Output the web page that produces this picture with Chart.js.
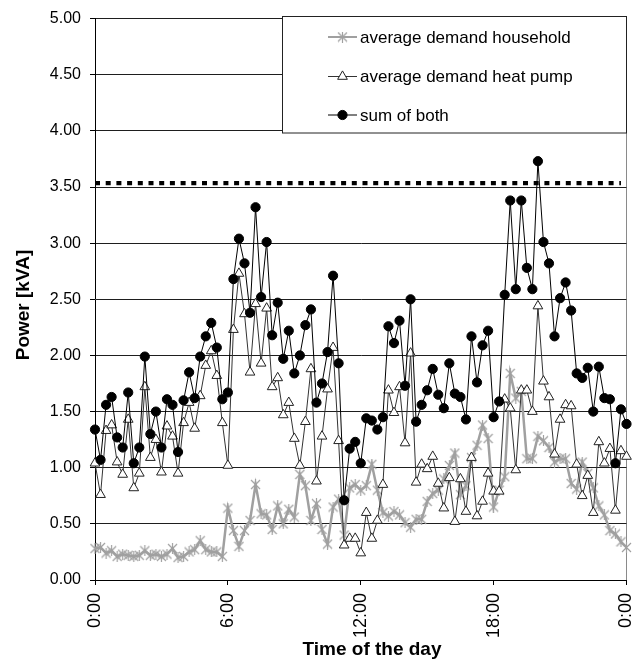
<!DOCTYPE html>
<html><head><meta charset="utf-8">
<script src="https://cdn.jsdelivr.net/npm/chart.js@4.4.0/dist/chart.umd.min.js"></script>
<style>html,body{margin:0;padding:0;background:#fff;}canvas{display:block;}</style>
</head><body>
<canvas id="c" width="634" height="661" style="width:634px;height:661px"></canvas>
<script>
// ---- DATA ----
const timeLabels = [
"0:00","0:15","0:30","0:45","1:00","1:15","1:30","1:45","2:00","2:15","2:30","2:45",
"3:00","3:15","3:30","3:45","4:00","4:15","4:30","4:45","5:00","5:15","5:30","5:45",
"6:00","6:15","6:30","6:45","7:00","7:15","7:30","7:45","8:00","8:15","8:30","8:45",
"9:00","9:15","9:30","9:45","10:00","10:15","10:30","10:45","11:00","11:15","11:30","11:45",
"12:00","12:15","12:30","12:45","13:00","13:15","13:30","13:45","14:00","14:15","14:30","14:45",
"15:00","15:15","15:30","15:45","16:00","16:15","16:30","16:45","17:00","17:15","17:30","17:45",
"18:00","18:15","18:30","18:45","19:00","19:15","19:30","19:45","20:00","20:15","20:30","20:45",
"21:00","21:15","21:30","21:45","22:00","22:15","22:30","22:45","23:00","23:15","23:30","23:45",
"0:00 "];
const tickLabelsShown = ["0:00","6:00","12:00","18:00","0:00 "];

const household = [
0.28,0.29,0.24,0.26,0.21,0.23,0.22,0.21,0.22,0.26,0.22,0.23,
0.21,0.23,0.28,0.20,0.21,0.25,0.27,0.35,0.27,0.25,0.25,0.21,
0.64,0.44,0.30,0.44,0.53,0.85,0.59,0.58,0.45,0.66,0.50,0.63,
0.56,0.94,0.84,0.53,0.68,0.45,0.32,0.65,0.72,0.40,0.82,0.85,
0.80,0.84,1.03,0.80,0.60,0.57,0.61,0.58,0.51,0.47,0.54,0.54,
0.70,0.77,0.80,0.90,1.02,1.13,0.76,0.84,1.09,1.20,1.38,1.26,
0.65,0.80,0.92,1.84,1.62,1.68,1.08,1.08,1.28,1.24,1.18,1.05,
1.08,1.08,0.86,0.81,1.05,0.95,0.82,0.66,0.58,0.44,0.41,0.34,
0.29];
const heatPump = [
1.04,0.76,1.33,1.38,1.05,0.94,1.43,0.82,0.95,1.72,1.09,1.25,
0.96,1.37,1.28,0.95,1.40,1.58,1.35,1.64,1.91,2.04,1.82,1.40,
1.02,2.23,2.73,2.37,1.85,2.46,1.93,2.42,1.72,1.80,1.47,1.58,
1.26,1.02,1.41,1.88,0.88,1.28,1.70,2.07,1.24,0.31,0.37,0.37,
0.24,0.60,0.37,0.53,0.85,1.69,1.49,1.72,1.22,2.02,0.87,1.03,
0.99,1.10,0.86,0.64,0.91,0.52,0.90,0.61,1.09,0.57,0.70,0.95,
0.79,0.79,1.61,1.53,0.98,1.69,1.69,1.50,2.44,1.77,1.63,1.12,
1.43,1.56,1.55,1.03,0.75,0.93,0.60,1.23,1.04,1.17,0.62,1.15,
1.10];
const sumBoth = [
1.34,1.07,1.56,1.63,1.27,1.18,1.67,1.04,1.18,1.99,1.30,1.50,
1.18,1.61,1.56,1.14,1.60,1.85,1.62,1.99,2.17,2.29,2.07,1.61,
1.67,2.68,3.04,2.82,2.38,3.32,2.52,3.01,2.18,2.47,1.97,2.22,
1.84,2.00,2.27,2.41,1.58,1.75,2.03,2.71,1.93,0.71,1.17,1.23,
1.04,1.44,1.42,1.34,1.45,2.26,2.11,2.31,1.73,2.50,1.41,1.56,
1.69,1.88,1.65,1.53,1.93,1.66,1.63,1.43,2.17,1.76,2.09,2.22,
1.45,1.59,2.54,3.38,2.59,3.38,2.78,2.59,3.73,3.01,2.82,2.17,
2.51,2.65,2.40,1.84,1.80,1.89,1.50,1.90,1.62,1.61,1.04,1.52,
1.39];
const limitValue = 3.535;
const limitSpan = ["0:00","23:45"];
const seriesNames = ["average demand household","average demand heat pump","sum of both"];
const yTicks = [0,0.5,1,1.5,2,2.5,3,3.5,4,4.5,5];
const xTitle = "Time of the day";
const yTitle = "Power [kVA]";

// ---- STYLE ----
const FONT = '"Liberation Sans", Arial, sans-serif';
const GRAY = '#a0a0a0';

function makeAsterisk(color){
  const s = 11, c = document.createElement('canvas');
  c.width = s; c.height = s;
  const g = c.getContext('2d');
  g.strokeStyle = color; g.lineWidth = 1.2; g.lineCap = 'butt';
  g.beginPath();
  g.moveTo(1,1); g.lineTo(s-1,s-1);
  g.moveTo(s-1,1); g.lineTo(1,s-1);
  g.moveTo(s/2,0); g.lineTo(s/2,s);
  g.stroke();
  return c;
}
const asterisk = makeAsterisk(GRAY);

const dsStyles = [
  {borderColor:GRAY, borderWidth:2.5, pointStyle:asterisk, pointRadius:5, order:3},
  {borderColor:'#333', borderWidth:1, pointStyle:'triangle', pointRadius:5.6,
   pointBackgroundColor:'#fff', pointBorderColor:'#222', pointBorderWidth:1, order:2},
  {borderColor:'#000', borderWidth:1, pointStyle:'circle', pointRadius:4.6,
   pointBackgroundColor:'#000', pointBorderColor:'#000', pointBorderWidth:1, order:1}
];

const overlayPlugin = {
  id:'overlay',
  afterDraw(chart){
    const ctx = chart.ctx;
    const ca = chart.chartArea;
    ctx.save();
    // legend box
    const bx = 282, by = 17, bw = 345, bh = 116;
    ctx.fillStyle = '#fff';
    ctx.fillRect(bx, by, bw, bh);
    ctx.strokeStyle = '#222'; ctx.lineWidth = 1;
    ctx.strokeRect(bx + 0.5, by - 0.5, bw - 1, bh + 0.5);
    const rows = [37, 76.5, 115];
    ctx.font = '17px ' + FONT;
    ctx.textBaseline = 'middle';
    ctx.textAlign = 'left';
    rows.forEach((ry, i) => {
      const st = dsStyles[i];
      ctx.strokeStyle = st.borderColor;
      ctx.lineWidth = i === 0 ? 2 : 1;
      ctx.beginPath(); ctx.moveTo(328, ry); ctx.lineTo(357, ry); ctx.stroke();
      ctx.fillStyle = st.pointBackgroundColor || GRAY;
      ctx.strokeStyle = st.pointBorderColor || GRAY;
      ctx.lineWidth = 1;
      Chart.helpers.drawPoint(ctx, {pointStyle: st.pointStyle, radius: st.pointRadius, rotation: 0, borderWidth: 1}, 342.5, ry);
      ctx.fillStyle = '#000';
      ctx.fillText(seriesNames[i], 360, ry + 1);
    });
    // axis titles
    ctx.fillStyle = '#000';
    ctx.font = 'bold 19px ' + FONT;
    ctx.textAlign = 'center';
    ctx.textBaseline = 'alphabetic';
    ctx.fillText(xTitle, 372, 655);
    ctx.save();
    ctx.translate(29, 305);
    ctx.rotate(-Math.PI/2);
    ctx.fillText(yTitle, 0, 0);
    ctx.restore();
    ctx.restore();
  }
};

const chart = new Chart(document.getElementById('c'), {
  type: 'line',
  data: {
    labels: timeLabels,
    datasets: [
      Object.assign({label: seriesNames[0], data: household, tension: 0, clip: false}, dsStyles[0]),
      Object.assign({label: seriesNames[1], data: heatPump, tension: 0, clip: false}, dsStyles[1]),
      Object.assign({label: seriesNames[2], data: sumBoth, tension: 0, clip: false}, dsStyles[2]),
      {label: 'limit', data: limitSpan.map(x => ({x: x, y: limitValue})), borderColor: '#000',
       borderWidth: 4.2, borderDash: [5, 5.7], borderCapStyle: 'butt', pointRadius: 0, order: 4, clip: false}
    ]
  },
  options: {
    responsive: false,
    devicePixelRatio: 1,
    animation: false,
    events: [],
    layout: {padding: {top: 17, right: 7, left: 0, bottom: 0}},
    plugins: {legend: {display: false}, tooltip: {enabled: false}, title: {display: false}},
    scales: {
      x: {
        type: 'category',
        offset: false,
        border: {display: true, color: '#000', width: 1},
        grid: {
          display: true,
          drawOnChartArea: true,
          color: c => (c.index === timeLabels.length - 1 ? '#8a8a8a' : 'rgba(0,0,0,0)'),
          tickColor: c => (c.index % 24 === 0 ? '#000' : 'rgba(0,0,0,0)'),
          tickLength: 5,
          lineWidth: 1
        },
        ticks: {
          autoSkip: false,
          minRotation: 90, maxRotation: 90,
          padding: 8,
          color: '#000',
          font: {family: FONT, size: 18},
          callback: function(v, i){ const l = this.getLabelForValue(v); return tickLabelsShown.includes(l) ? l.trim() : ''; }
        },
        afterFit: s => { s.height = 81; s.paddingLeft = 0; s.paddingRight = 0; }
      },
      y: {
        min: 0, max: 5,
        border: {display: true, color: '#000', width: 1},
        grid: {color: '#1e1e1e', lineWidth: 1, tickLength: 5, tickColor: '#000'},
        afterBuildTicks: s => { s.ticks = yTicks.map(v => ({value: v})); },
        ticks: {
          padding: 9,
          color: '#000',
          font: {family: FONT, size: 16},
          callback: v => Number(v).toFixed(2)
        },
        afterFit: s => { s.width = 95; }
      }
    }
  },
  plugins: [overlayPlugin]
});
</script>
</body></html>
